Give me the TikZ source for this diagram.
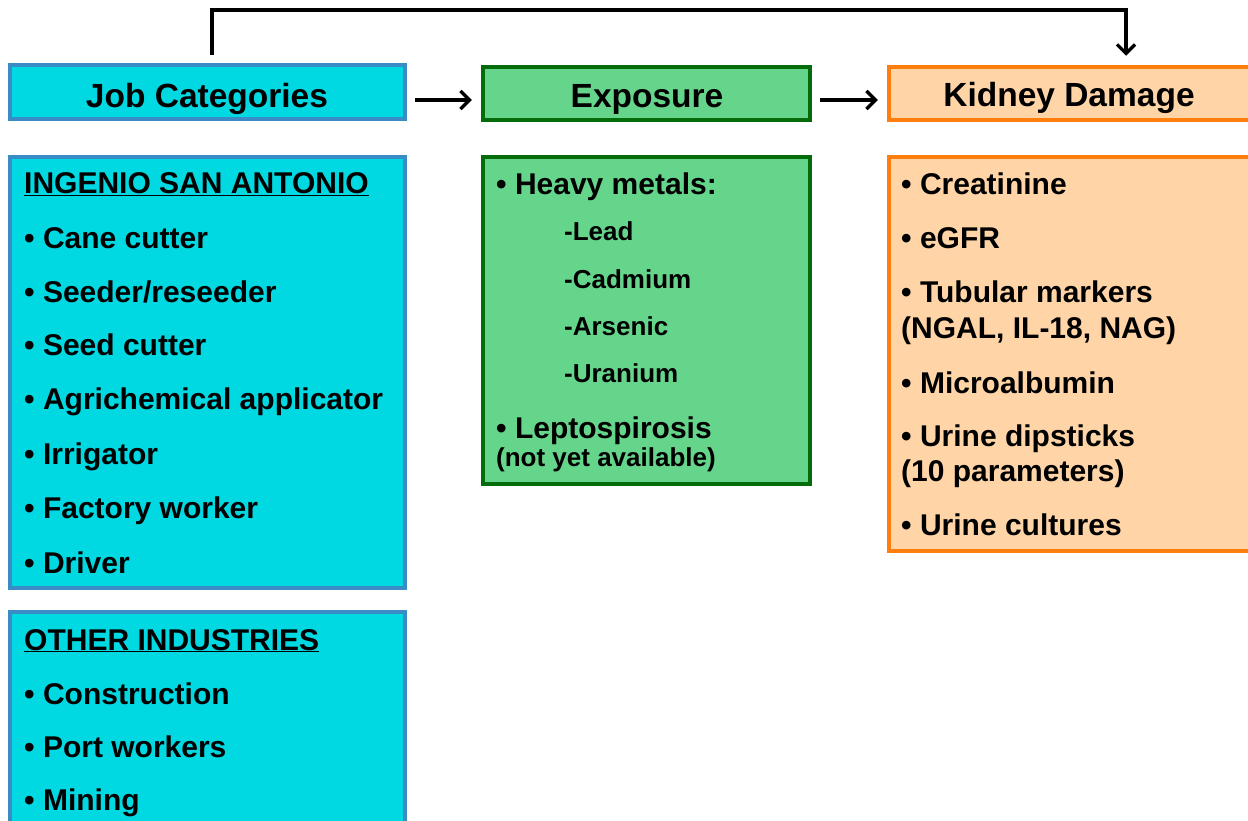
\documentclass[tikz,border=0pt]{standalone}
\usepackage{fontspec}
\setmainfont{Liberation Sans}
\usetikzlibrary{arrows.meta}
\definecolor{jobfill}{HTML}{00D8E2}
\definecolor{jobdraw}{HTML}{3A8CC6}
\definecolor{expfill}{HTML}{66D58C}
\definecolor{expdraw}{HTML}{036B0A}
\definecolor{kidfill}{HTML}{FFD5A8}
\definecolor{kiddraw}{HTML}{FF7E0D}
\begin{document}
\begin{tikzpicture}[x=1pt,y=-1pt,
  box/.style={rectangle, line width=4.5pt, inner sep=0pt},
  jobbox/.style={box, draw=jobdraw, fill=jobfill},
  expbox/.style={box, draw=expdraw, fill=expfill},
  kidbox/.style={box, draw=kiddraw, fill=kidfill},
  head/.style={anchor=base, inner sep=0pt, font=\fontsize{33.5}{38}\selectfont\bfseries},
  item/.style={anchor=base west, inner sep=0pt, font=\fontsize{30}{34}\selectfont\bfseries},
  sub/.style={anchor=base west, inner sep=0pt, font=\fontsize{26}{30}\selectfont\bfseries},
  conn/.style={line width=3.2pt, -{Straight Barb[length=9pt,width=18pt,line width=3.2pt]}}]
\clip (0,0) rectangle (1248,821);
\useasboundingbox (0,0) rectangle (1248,821);

% header boxes
\node[jobbox, minimum width=395, minimum height=54] (jobh) at (207.5,92) {};
\node[expbox, minimum width=327, minimum height=53] (exph) at (646.5,93.5) {};
\node[kidbox, minimum width=363, minimum height=53] (kidh) at (1070.5,93.5) {};
\node[head] (jobt) at (207,107.5) {Job Categories};
\node[head] (expt) at (647,108) {Exposure};
\node[head] (kidt) at (1069,107) {Kidney Damage};

% body boxes
\node[jobbox, minimum width=395, minimum height=431] (ingb) at (207.5,372.5) {};
\node[jobbox, minimum width=395, minimum height=218] (othb) at (207.5,721) {};
\node[expbox, minimum width=327, minimum height=327] (expb) at (646.5,320.5) {};
\node[kidbox, minimum width=363, minimum height=394] (kidb) at (1070.5,354) {};

% connectors
\draw[conn, shorten <=8pt, shorten >=9pt] ([yshift=-8pt]jobh.east) -- ([yshift=-6.5pt]exph.west);
\draw[conn, shorten <=8pt, shorten >=9pt] ([yshift=-6.5pt]exph.east) -- ([yshift=-6.5pt]kidh.west);
\coordinate (topr) at (1126,10);
\draw[conn, line join=miter] ([xshift=4.5pt,yshift=8pt]jobh.north) |- (topr) -- ([xshift=55.5pt,yshift=9pt]kidh.north);

% Ingenio San Antonio
\node[item] (ing0) at (24,194) {\underline{INGENIO SAN ANTONIO}};
\node[item] (ing1) at (24,248) {• Cane cutter};
\node[item] (ing2) at (24,302) {• Seeder/reseeder};
\node[item] (ing3) at (24,355) {• Seed cutter};
\node[item] (ing4) at (24,409) {• Agrichemical applicator};
\node[item] (ing5) at (24,464) {• Irrigator};
\node[item] (ing6) at (24,518) {• Factory worker};
\node[item] (ing7) at (24,573) {• Driver};

% Other industries
\node[item] (oth0) at (24,650) {\underline{OTHER INDUSTRIES}};
\node[item] (oth1) at (24,704) {• Construction};
\node[item] (oth2) at (24,757) {• Port workers};
\node[item] (oth3) at (24,810) {• Mining};

% Exposure
\node[item] (exp0) at (496,195) {• Heavy metals:};
\node[sub] (exp1) at (564,241) {-Lead};
\node[sub] (exp2) at (564,288) {-Cadmium};
\node[sub] (exp3) at (564,335) {-Arsenic};
\node[sub] (exp4) at (564,382) {-Uranium};
\node[item] (exp5) at (496,438) {• Leptospirosis};
\node[sub] (exp6) at (496,466) {(not yet available)};

% Kidney damage
\node[item] (kid1) at (901,195) {• Creatinine};
\node[item] (kid2) at (901,249) {• eGFR};
\node[item] (kid3) at (901,302) {• Tubular markers};
\node[item] (kid4) at (901,338) {(NGAL, IL-18, NAG)};
\node[item] (kid5) at (901,393) {• Microalbumin};
\node[item] (kid6) at (901,446) {• Urine dipsticks};
\node[item] (kid7) at (901,481) {(10 parameters)};
\node[item] (kid8) at (901,535) {• Urine cultures};
\end{tikzpicture}
\end{document}
